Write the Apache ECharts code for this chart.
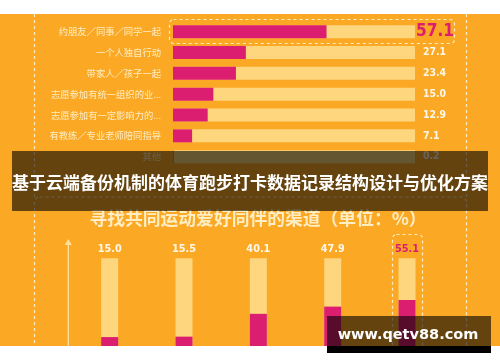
<!DOCTYPE html>
<html><head><meta charset="utf-8">
<script src="https://cdn.jsdelivr.net/npm/echarts@6/dist/echarts.min.js"></script>
<style>html,body{margin:0;padding:0;background:#fff}#c{width:500px;height:362px}</style>
</head><body><div id="c"></div><script>
// ---- data ----
const titleText = '基于云端备份机制的体育跑步打卡数据记录结构设计与优化方案';
const subtitleText = '寻找共同运动爱好同伴的渠道（单位：%）';
const watermarkText = 'www.qetv88.com';
const rowCategories = ['约朋友／同事／同学一起','一个人独自行动','带家人／孩子一起','志愿参加有统一组织的业...','志愿参加有一定影响力的...','有教练／专业老师陪同指导','其他'];
const rowValues = [57.1, 27.1, 23.4, 15.0, 12.9, 7.1, 0.2];
const colCategories = ['渠道一','渠道二','渠道三','渠道四','渠道五'];
const colValues = [15.0, 15.5, 40.1, 47.9, 55.1];
const rowAxisMax = 90;
const colAxisMax = 100;
const highlightRow = 0;
const highlightCol = 4;

// ---- style ----
const ORANGE = '#FBA924', PINK = '#DB1E6F', TRACK = '#FDD67E', CREAM = '#FFEDC4', WHITE = '#FFF8EA';
const CJK = "'Noto Sans CJK SC',sans-serif";

// pick a narrow numeric font if one is installed
const ctx = document.createElement('canvas').getContext('2d');
function w(font, s) { ctx.font = font; return ctx.measureText(s).width; }
let NUM_FAMILY = 'Roboto';
for (const f of ['Liberation Sans Narrow', 'DejaVu Sans Condensed', 'Roboto Condensed', 'Open Sans Condensed']) {
  const a = w("bold 100px '" + f + "', monospace", '57.1 23.4');
  const b = w('bold 100px monospace', '57.1 23.4');
  if (Math.abs(a - b) > 0.5) { NUM_FAMILY = f; break; }
}
const NUM_FONT = "'" + NUM_FAMILY + "',sans-serif";
function sizeFor(str, target) { return Math.min(target.max, target.w / (w("bold 100px " + NUM_FONT, str) / 100)); }
const hiRowSize = sizeFor('57.1', {w: 38, max: 21});
const rowSize = sizeFor('23.4', {w: 23, max: 13});
const colSize = sizeFor('15.0', {w: 24, max: 15});

const chart = echarts.init(document.getElementById('c'), null, {renderer: 'canvas'});
const dash = {stroke: CREAM, lineWidth: 1.2, lineDash: [3, 3], fill: null};

chart.setOption({
  backgroundColor: ORANGE,
  animation: false,
  grid: [
    {left: 173, right: 85, top: 21.3, height: 145.8},
    {left: 72.5, right: 55.8, top: 258.3, height: 92.7}
  ],
  xAxis: [
    {type: 'value', gridIndex: 0, min: 0, max: rowAxisMax, show: false},
    {type: 'category', gridIndex: 1, data: colCategories, show: false}
  ],
  yAxis: [
    {type: 'category', gridIndex: 0, data: rowCategories, inverse: true,
     axisLine: {show: false}, axisTick: {show: false}, splitLine: {show: false},
     axisLabel: {color: CREAM, fontSize: 9.3, margin: 12, fontFamily: CJK}},
    {type: 'value', gridIndex: 1, min: 0, max: colAxisMax, show: false}
  ],
  series: [
    {type: 'bar', xAxisIndex: 0, yAxisIndex: 0, barWidth: 13, silent: true,
     itemStyle: {color: TRACK},
     data: rowCategories.map((c, i) => ({
       value: rowAxisMax,
       label: i === highlightRow ? {distance: 1, color: PINK, fontSize: hiRowSize} : {}
     })),
     label: {show: true, position: 'right', distance: 8, color: WHITE, fontSize: rowSize,
             fontWeight: 'bold', fontFamily: NUM_FONT,
             formatter: p => rowValues[p.dataIndex].toFixed(1)}},
    {type: 'bar', xAxisIndex: 0, yAxisIndex: 0, barWidth: 13, barGap: '-100%', silent: true,
     itemStyle: {color: PINK}, data: rowValues},
    {type: 'bar', xAxisIndex: 1, yAxisIndex: 1, barWidth: 17, silent: true,
     itemStyle: {color: TRACK},
     data: colCategories.map((c, i) => ({
       value: colAxisMax,
       label: i === highlightCol ? {color: PINK} : {}
     })),
     label: {show: true, position: 'top', distance: 4, color: WHITE, fontSize: colSize,
             fontWeight: 'bold', fontFamily: NUM_FONT,
             formatter: p => colValues[p.dataIndex].toFixed(1)}},
    {type: 'bar', xAxisIndex: 1, yAxisIndex: 1, barWidth: 17, barGap: '-100%', silent: true,
     itemStyle: {color: PINK}, data: colValues}
  ],
  graphic: [
    {type: 'rect', z: 40, shape: {x: 0, y: 0, width: 500, height: 14}, style: {fill: '#fff'}},
    {type: 'rect', z: 40, shape: {x: 0, y: 346, width: 500, height: 16}, style: {fill: '#fff'}},
    {type: 'line', z: 1, shape: {x1: 34.5, y1: 14, x2: 34.5, y2: 200}, style: dash},
    {type: 'line', z: 1, shape: {x1: 466.5, y1: 14, x2: 466.5, y2: 200}, style: dash},
    {type: 'rect', z: 1, shape: {x: 34.5, y: 197, width: 432, height: 220, r: 5}, style: dash},
    {type: 'rect', z: 10, shape: {x: 169.5, y: 19.5, width: 285, height: 24, r: 4}, style: dash},
    {type: 'rect', z: 10, shape: {x: 392.5, y: 234.5, width: 30, height: 180, r: 4}, style: dash},
    {type: 'line', z: 5, shape: {x1: 68.3, y1: 243, x2: 68.3, y2: 346}, style: {stroke: '#FDE0A0', lineWidth: 1.3}},
    {type: 'polygon', z: 5, shape: {points: [[68.3, 239], [64.8, 245], [71.8, 245]]}, style: {fill: '#FDE0A0'}},
    {type: 'text', z: 10, style: {text: subtitleText, x: 258, y: 218, textAlign: 'center', textVerticalAlign: 'middle',
      fill: CREAM, font: "bold 17.8px 'Noto Sans CJK SC'"}},
    {type: 'rect', z: 50, shape: {x: 12, y: 151, width: 476, height: 60}, style: {fill: 'rgba(0,0,0,0.6)'}},
    {type: 'text', z: 51, style: {text: titleText, x: 250, y: 183, textAlign: 'center', textVerticalAlign: 'middle',
      fill: '#ffffff', font: "bold 17px 'Noto Sans CJK SC'"}},
    {type: 'rect', z: 60, shape: {x: 327, y: 316, width: 164, height: 30}, style: {fill: 'rgba(0,0,0,0.6)'}},
    {type: 'rect', z: 60, shape: {x: 327, y: 346, width: 164, height: 7}, style: {fill: '#000'}},
    {type: 'text', z: 61, style: {text: watermarkText, x: 408, y: 335, textAlign: 'center', textVerticalAlign: 'middle',
      fill: '#ffffff', font: "bold 14.5px 'DejaVu Sans'"}}
  ]
});
</script></body></html>
